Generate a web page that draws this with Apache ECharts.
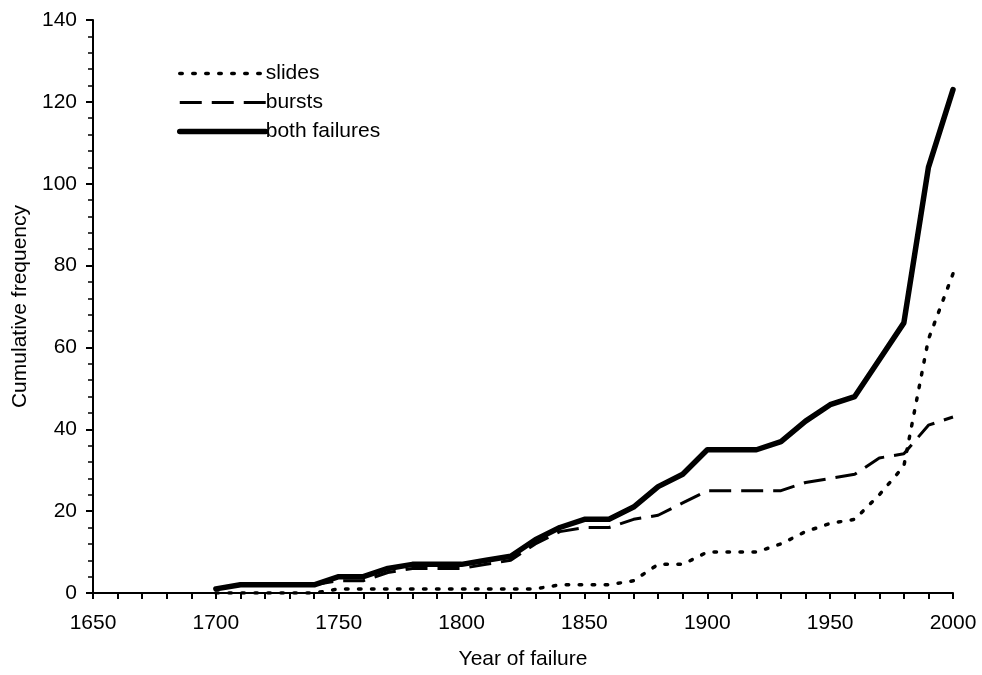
<!DOCTYPE html>
<html>
<head>
<meta charset="utf-8">
<title>Cumulative frequency of failures</title>
<script src="https://cdn.jsdelivr.net/npm/echarts@6/dist/echarts.min.js"></script>
<style>
  html, body { margin: 0; padding: 0; background: #fff; }
  #chart { width: 982px; height: 675px; }
</style>
</head>
<body>
<div id="chart"></div>
<script>
// years of failure (every 10 years)
const years = [1700, 1710, 1720, 1730, 1740, 1750, 1760, 1770, 1780, 1790, 1800,
  1810, 1820, 1830, 1840, 1850, 1860, 1870, 1880, 1890, 1900,
  1910, 1920, 1930, 1940, 1950, 1960, 1970, 1980, 1990, 2000];

// cumulative counts
const slides = [0, 0, 0, 0, 0, 1, 1, 1, 1, 1, 1,
  1, 1, 1, 2, 2, 2, 3, 7, 7, 10,
  10, 10, 12, 15, 17, 18, 24, 31, 62, 78];
const bursts = [1, 2, 2, 2, 2, 3, 3, 5, 6, 6, 6,
  7, 8, 12, 15, 16, 16, 18, 19, 22, 25,
  25, 25, 25, 27, 28, 29, 33, 34, 41, 43];
const both = [1, 2, 2, 2, 2, 4, 4, 6, 7, 7, 7,
  8, 9, 13, 16, 18, 18, 21, 26, 29, 35,
  35, 35, 37, 42, 46, 48, 57, 66, 104, 123];

const xLabels = [1650, 1700, 1750, 1800, 1850, 1900, 1950, 2000];

const pairs = (vals) => years.map((y, i) => [y, vals[i]]);

const font = 'Liberation Sans, Arial, sans-serif';
const fs = 21;

// line looks shared by the series and their legend samples
const slidesLine = { color: '#000', width: 3.5, type: [2.5, 10.5], cap: 'round' };
const burstsLine = { color: '#000', width: 3, type: [22, 10] };
const bothLine = { color: '#000', width: 5.5, cap: 'round', join: 'round' };

const chart = echarts.init(document.getElementById('chart'));

chart.setOption({
  animation: false,
  textStyle: { fontFamily: font, color: '#000' },
  grid: { left: 93, right: 29, top: 20, bottom: 81 },
  legend: {
    orient: 'vertical',
    left: 172,
    top: 58,
    itemWidth: 86,
    itemHeight: 10,
    itemGap: 8,
    itemStyle: { opacity: 0 },
    textStyle: { fontFamily: font, fontSize: fs, color: '#000', padding: [0, 0, 0, -5] },
    data: [
      { name: 'slides', lineStyle: slidesLine },
      { name: 'bursts', lineStyle: burstsLine },
      { name: 'both failures', lineStyle: bothLine }
    ]
  },
  xAxis: {
    type: 'value',
    min: 1650,
    max: 2000,
    interval: 10,
    name: 'Year of failure',
    nameLocation: 'middle',
    nameGap: 56,
    nameTextStyle: { fontFamily: font, fontSize: fs, color: '#000' },
    axisLine: { lineStyle: { color: '#000', width: 2 } },
    axisTick: { show: true, length: 6, lineStyle: { color: '#000', width: 2 } },
    axisLabel: {
      fontFamily: font,
      fontSize: fs,
      color: '#000',
      margin: 20,
      formatter: (v) => (xLabels.includes(v) ? String(v) : '')
    },
    splitLine: { show: false }
  },
  yAxis: {
    type: 'value',
    min: 0,
    max: 140,
    interval: 20,
    name: 'Cumulative frequency',
    nameLocation: 'middle',
    nameGap: 62,
    nameTextStyle: { fontFamily: font, fontSize: fs, color: '#000' },
    axisLine: { show: true, lineStyle: { color: '#000', width: 2 } },
    axisTick: { show: true, length: 7, lineStyle: { color: '#000', width: 2 } },
    minorTick: { show: true, splitNumber: 5, length: 5, lineStyle: { color: '#000', width: 1.5 } },
    axisLabel: { fontFamily: font, fontSize: fs, color: '#000', margin: 16 },
    splitLine: { show: false }
  },
  series: [
    {
      name: 'slides',
      type: 'line',
      data: pairs(slides),
      symbol: 'none',
      color: '#000',
      lineStyle: slidesLine,
      z: 3
    },
    {
      name: 'bursts',
      type: 'line',
      data: pairs(bursts),
      symbol: 'none',
      color: '#000',
      lineStyle: burstsLine,
      z: 4
    },
    {
      name: 'both failures',
      type: 'line',
      data: pairs(both),
      symbol: 'none',
      color: '#000',
      lineStyle: bothLine,
      z: 5
    }
  ]
});

window.addEventListener('resize', () => chart.resize());
</script>
</body>
</html>
